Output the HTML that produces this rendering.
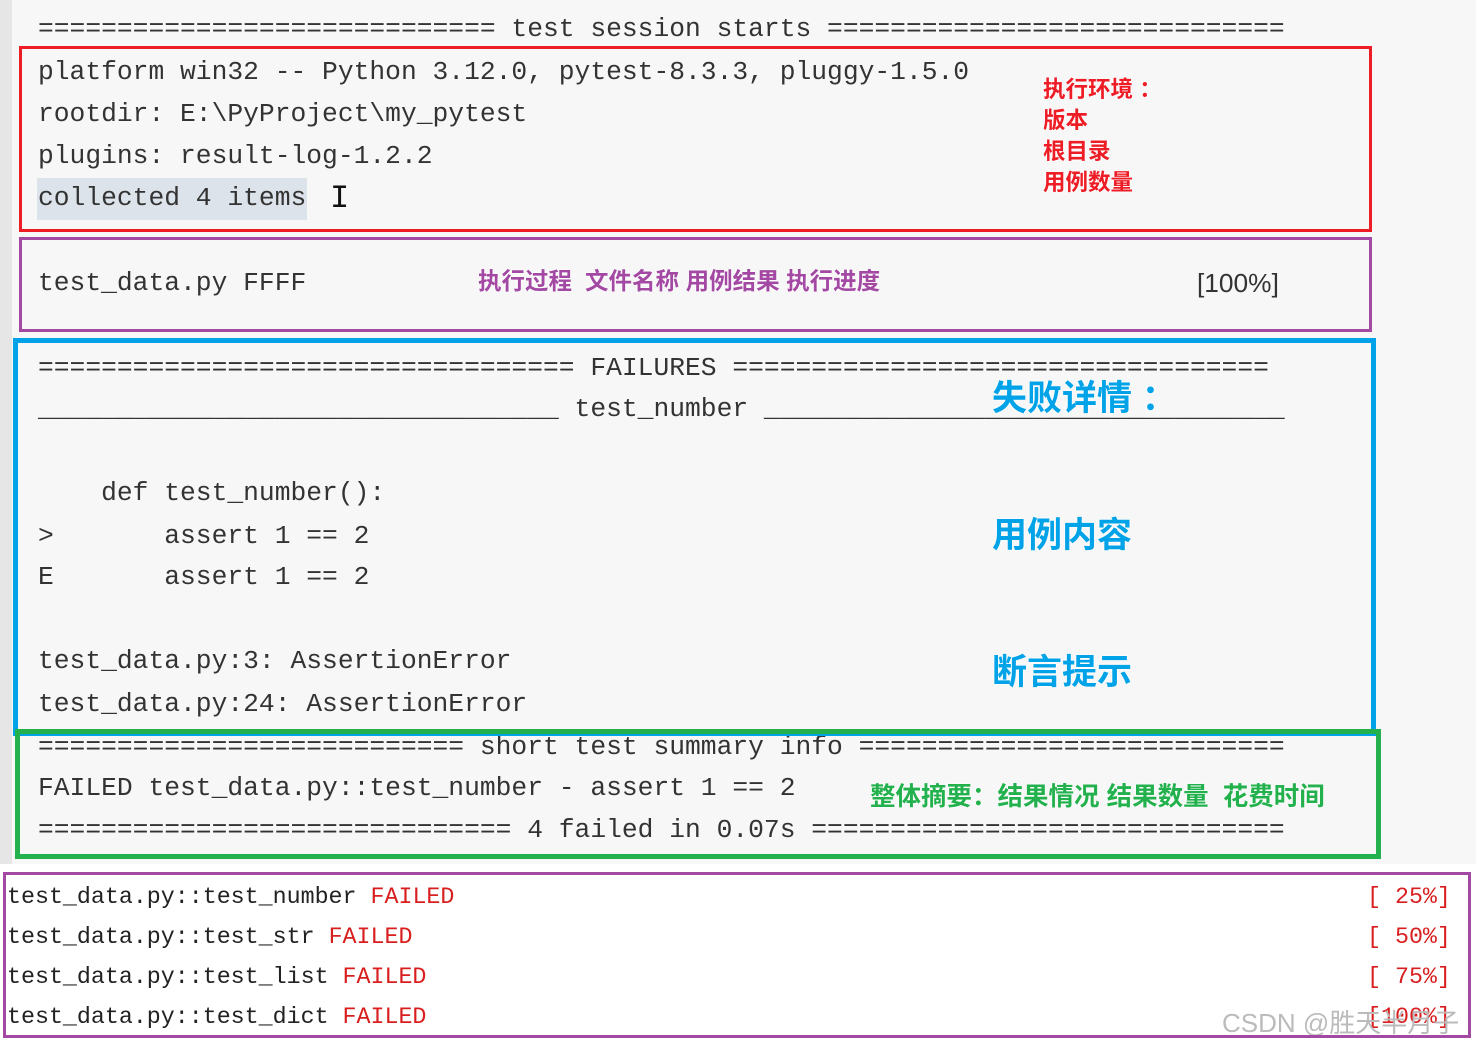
<!DOCTYPE html>
<html><head><meta charset="utf-8"><style>
body{margin:0;width:1476px;height:1045px;position:relative;background:#f7f7f7;overflow:hidden}
.t{position:absolute;font-family:"Liberation Mono",monospace;font-size:26.3px;color:#333;white-space:pre;line-height:30px}
.b{position:absolute;box-sizing:border-box}
.a{position:absolute;font-family:"Liberation Sans","Noto Sans CJK SC",sans-serif;font-weight:bold;white-space:pre;text-shadow:0 0 2px #fff,0 0 2px #fff}
.l{position:absolute;font-family:"Liberation Mono",monospace;font-size:23.3px;color:#222;white-space:pre;line-height:30px;left:7px}
.r{color:#d81e1e}
</style></head><body>
<div style="position:absolute;left:0;top:0;width:12px;height:870px;background:#e6e6e6"></div>
<div style="position:absolute;left:0;top:864px;width:1476px;height:181px;background:#fff"></div>
<div class="t" style="left:38px;top:14px">============================= test session starts =============================</div>
<div class="t" style="left:38px;top:57px">platform win32 -- Python 3.12.0, pytest-8.3.3, pluggy-1.5.0</div>
<div class="t" style="left:38px;top:99px">rootdir: E:\PyProject\my_pytest</div>
<div class="t" style="left:38px;top:141px">plugins: result-log-1.2.2</div>
<div style="position:absolute;left:37px;top:178px;width:270px;height:42px;background:#dde3ea"></div>
<div class="t" style="left:38px;top:183px">collected 4 items</div>
<div class="t" style="left:330px;top:184px;font-size:32px;color:#111">I</div>
<div class="t" style="left:38px;top:268px">test_data.py FFFF</div>
<div class="t" style="left:1197px;top:268px;font-family:'Liberation Sans',sans-serif">[100%]</div>
<div class="t" style="left:38px;top:353px">================================== FAILURES ==================================</div>
<div class="t" style="left:38px;top:394px">_________________________________ test_number _________________________________</div>
<div class="t" style="left:38px;top:478px">    def test_number():</div>
<div class="t" style="left:38px;top:521px">&gt;       assert 1 == 2</div>
<div class="t" style="left:38px;top:562px">E       assert 1 == 2</div>
<div class="t" style="left:38px;top:646px">test_data.py:3: AssertionError</div>
<div class="t" style="left:38px;top:689px">test_data.py:24: AssertionError</div>
<div class="t" style="left:38px;top:732px">=========================== short test summary info ===========================</div>
<div class="t" style="left:38px;top:773px">FAILED test_data.py::test_number - assert 1 == 2</div>
<div class="t" style="left:38px;top:815px">============================== 4 failed in 0.07s ==============================</div>
<div class="l" style="top:882px">test_data.py::test_number <span class="r">FAILED</span></div>
<div class="l" style="top:922px">test_data.py::test_str <span class="r">FAILED</span></div>
<div class="l" style="top:962px">test_data.py::test_list <span class="r">FAILED</span></div>
<div class="l" style="top:1002px">test_data.py::test_dict <span class="r">FAILED</span></div>
<div class="l" style="top:882px;left:1367px;color:#d81e1e">[ 25%]</div>
<div class="l" style="top:922px;left:1367px;color:#d81e1e">[ 50%]</div>
<div class="l" style="top:962px;left:1367px;color:#d81e1e">[ 75%]</div>
<div class="l" style="top:1002px;left:1367px;color:#d81e1e">[100%]</div>
<div class="a" style="left:1222px;top:1003px;font-size:26px;font-weight:normal;color:#bbb;text-shadow:none">CSDN @胜天半月子</div>
<div class="b" style="left:19px;top:46px;width:1353px;height:186px;border:3px solid #ee1c25"></div>
<div class="b" style="left:19px;top:237px;width:1353px;height:95px;border:3px solid #a349a4"></div>
<div class="b" style="left:13px;top:338px;width:1363px;height:398px;border:5px solid #00a2e8"></div>
<div class="b" style="left:15px;top:729px;width:1366px;height:130px;border:5px solid #22b14c"></div>
<div class="b" style="left:3px;top:872px;width:1468px;height:166px;border:3px solid #a349a4"></div>
<div class="a" style="left:1043px;top:74px;font-size:22.5px;line-height:31px;color:#ee1c25">执行环境 ：
版本
根目录
用例数量</div>
<div class="a" style="left:478px;top:262px;font-size:23.5px;color:#a349a4">执行过程  文件名称 用例结果 执行进度</div>
<div class="a" style="left:992px;top:370px;font-size:35px;color:#00a2e8">失败详情 ：</div>
<div class="a" style="left:992px;top:507px;font-size:35px;color:#00a2e8">用例内容</div>
<div class="a" style="left:992px;top:644px;font-size:35px;color:#00a2e8">断言提示</div>
<div class="a" style="left:870px;top:776px;font-size:25.5px;color:#22b14c">整体摘要：结果情况 结果数量  花费时间</div>
</body></html>
